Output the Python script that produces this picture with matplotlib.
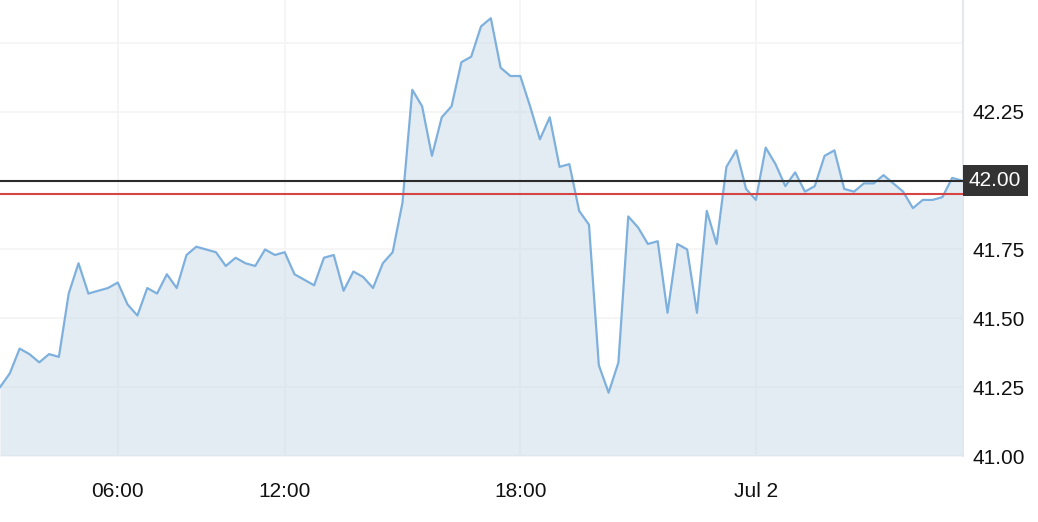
import numpy as np
import matplotlib
matplotlib.use("Agg")
import matplotlib.pyplot as plt

# 15-minute closes
prices = [41.25, 41.30, 41.39, 41.37, 41.34, 41.37, 41.36, 41.59, 41.70, 41.59,
          41.60, 41.61, 41.63, 41.55, 41.51, 41.61, 41.59, 41.66, 41.61, 41.73,
          41.76, 41.75, 41.74, 41.69, 41.72, 41.70, 41.69, 41.75, 41.73, 41.74,
          41.66, 41.64, 41.62, 41.72, 41.73, 41.60, 41.67, 41.65, 41.61, 41.70,
          41.74, 41.92, 42.33, 42.27, 42.09, 42.23, 42.27, 42.43, 42.45, 42.56,
          42.59, 42.41, 42.38, 42.38, 42.27, 42.15, 42.23, 42.05, 42.06, 41.89,
          41.84, 41.33, 41.23, 41.34, 41.87, 41.83, 41.77, 41.78, 41.52, 41.77,
          41.75, 41.52, 41.89, 41.77, 42.05, 42.11, 41.97, 41.93, 42.12, 42.06,
          41.98, 42.03, 41.96, 41.98, 42.09, 42.11, 41.97, 41.96, 41.99, 41.99,
          42.02, 41.99, 41.96, 41.90, 41.93, 41.93, 41.94, 42.01, 42.00]
time_tick_pos = [12, 29, 53, 77]
time_tick_labels = ["06:00", "12:00", "18:00", "Jul 2"]
price_ticks = [41.00, 41.25, 41.50, 41.75, 42.00, 42.25, 42.50]
price_tick_labels = ["41.00", "41.25", "41.50", "41.75", "", "42.25", ""]
last_price = 42.00
ref_price = 41.95

x = np.arange(len(prices))
fonts = ['Liberation Sans', 'DejaVu Sans']

fig = plt.figure(figsize=(10.38, 5.22), dpi=100)
ax = fig.add_axes([0.0, 66 / 522, 963 / 1038, 456 / 522])

ax.fill_between(x, prices, 41.0, color="#c9dbe9", alpha=0.5, lw=0, zorder=2)
ax.plot(x, prices, color="#7eb0dd", lw=1.6, zorder=3)
ax.axhline(last_price, color="#2b2b2b", lw=1.5, zorder=4)
ax.axhline(ref_price, color="#d64545", lw=1.5, zorder=4)

ax.set_xlim(0, 98.1)
ax.set_ylim(41.0, 42.656)
ax.set_xticks(time_tick_pos)
ax.set_xticklabels(time_tick_labels, fontsize=15, family=fonts)
ax.yaxis.tick_right()
ax.set_yticks(price_ticks)
ax.set_yticklabels(price_tick_labels, fontsize=15, family=fonts)
ax.tick_params(axis="x", length=0, pad=19, colors="#111111")
ax.tick_params(axis="y", length=0, pad=6.5, colors="#111111")
ax.grid(True, color="#f4f4f4", lw=1.2, zorder=1)
ax.set_axisbelow(True)

for side in ["left", "top", "bottom"]:
    ax.spines[side].set_visible(False)
ax.spines["right"].set_color("#e3e8ef")
ax.spines["right"].set_linewidth(1.5)

# last price badge
ax.annotate("42.00", xy=(1.0, last_price), xycoords=ax.get_yaxis_transform(),
            xytext=(4.3, 0), textcoords="offset points",
            ha="left", va="center", fontsize=15, color="white",
            family=fonts, zorder=6, annotation_clip=False,
            bbox=dict(boxstyle="square,pad=0.3", fc="#333333", ec="none"))

fig.savefig("out.png", dpi=100)
